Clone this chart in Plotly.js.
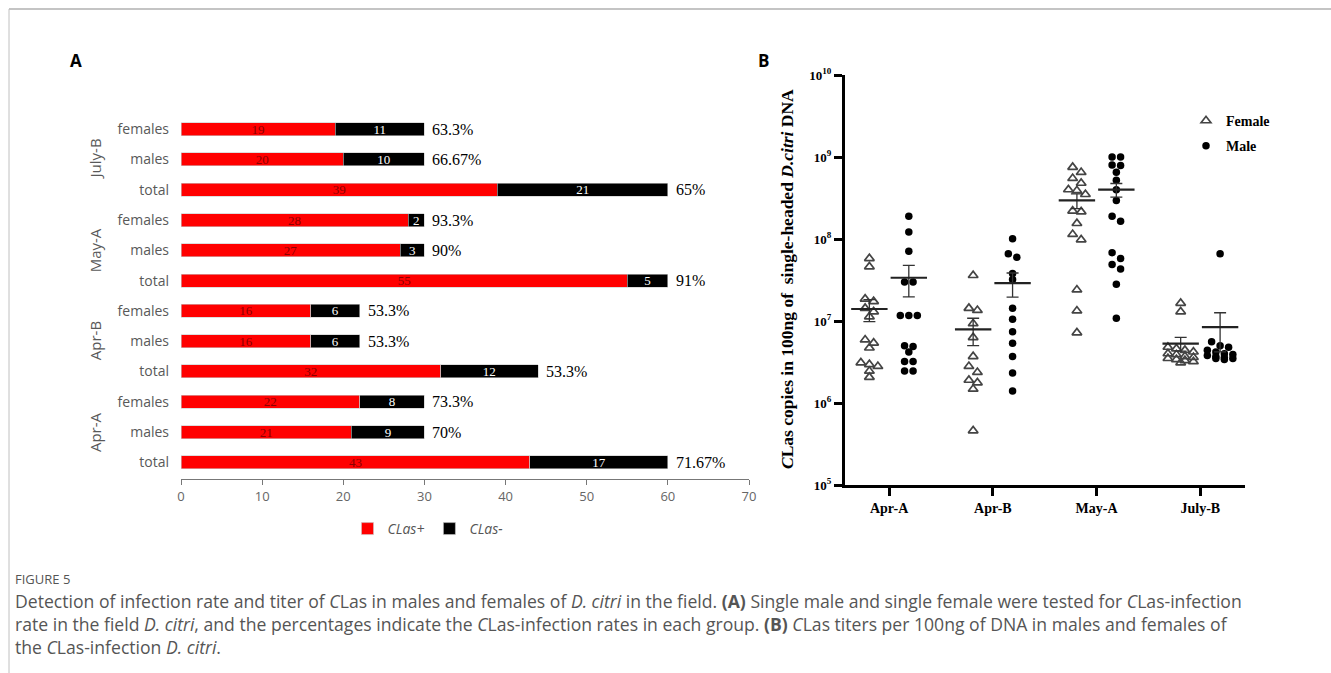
<!DOCTYPE html>
<html>
<head>
<meta charset="utf-8">
<script src="https://cdn.plot.ly/plotly-3.0.1.min.js"></script>
<style>html,body{margin:0;padding:0;background:#fff;}#chart{width:1331px;height:673px;}</style>
</head>
<body>
<div id="chart"></div>
<script>
// ---------- Panel A data (rows listed top to bottom) ----------
const groupsA = ['July-B', 'May-A', 'Apr-B', 'Apr-A'];
const rolesA = ['females', 'males', 'total'];
const posA = [19, 20, 39, 28, 27, 55, 16, 16, 32, 22, 21, 43];   // CLas+
const negA = [11, 10, 21, 2, 3, 5, 6, 6, 12, 8, 9, 17];          // CLas-
const pctA = ['63.3%', '66.67%', '65%', '93.3%', '90%', '91%', '53.3%', '53.3%', '53.3%', '73.3%', '70%', '71.67%'];
const xTicksA = [0, 10, 20, 30, 40, 50, 60, 70];

// ---------- Panel B data ----------
const groupsB = ['Apr-A', 'Apr-B', 'May-A', 'July-B'];
const femaleB = [
  [5.8e7, 4.6e7, 1.86e7, 1.73e7, 1.43e7, 1.3e7, 1.13e7, 5.9e6, 5.4e6, 4.7e6, 3.1e6, 2.95e6, 2.8e6, 2.45e6, 2.06e6],
  [3.6e7, 1.43e7, 1.35e7, 9.3e6, 6.3e6, 3.7e6, 2.8e6, 2.37e6, 1.9e6, 1.77e6, 1.48e6, 4.6e5],
  [7.5e8, 6.5e8, 5.5e8, 4.8e8, 4.0e8, 3.9e8, 3.5e8, 2.2e8, 2.15e8, 1.55e8, 1.14e8, 9.8e7, 2.4e7, 1.33e7, 7.2e6],
  [1.65e7, 1.3e7, 4.8e6, 4.6e6, 4.4e6, 4.2e6, 4.0e6, 3.9e6, 3.7e6, 3.6e6, 3.5e6, 3.4e6, 3.3e6, 3.2e6, 3.1e6]
];
const maleB = [
  [1.9e8, 1.22e8, 7.1e7, 3.0e7, 3.0e7, 1.17e7, 1.17e7, 1.17e7, 5.0e6, 4.9e6, 4.2e6, 3.2e6, 3.2e6, 2.45e6, 2.45e6],
  [1.01e8, 6.6e7, 6.0e7, 3.8e7, 3.2e7, 1.43e7, 1.05e7, 7.4e6, 5.35e6, 3.7e6, 2.33e6, 1.4e6],
  [1.0e9, 1.0e9, 8.0e8, 7.9e8, 6.5e8, 5.2e8, 4.0e8, 2.95e8, 1.9e8, 1.65e8, 6.8e7, 5.8e7, 4.9e7, 4.3e7, 2.8e7, 1.08e7],
  [6.6e7, 5.6e6, 5.0e6, 4.8e6, 4.4e6, 4.2e6, 4.0e6, 3.9e6, 3.8e6, 3.7e6, 3.6e6, 3.5e6, 3.5e6, 3.4e6]
];
const meanF = [1.4e7, 7.9e6, 2.95e8, 5.3e6];
const semF  = [4.2e6, 2.9e6, 6.0e7, 1.0e6];
const meanM = [3.37e7, 2.9e7, 4.0e8, 8.4e6];
const semM  = [1.4e7, 9.5e6, 7.5e7, 4.2e6];
const yTicksB = [1e5, 1e6, 1e7, 1e8, 1e9, 1e10];
const yTickTextB = ['10<sup>5</sup>', '10<sup>6</sup>', '10<sup>7</sup>', '10<sup>8</sup>', '10<sup>9</sup>', '10<sup>10</sup>'];

// ---------- geometry helpers ----------
const W = 1331, H = 673;
const px = v => v / W;
const py = v => 1 - v / H;

const nRows = posA.length;
const yPosA = posA.map((_, i) => nRows - 1 - i);
const tickTextA = yPosA.map((_, i) => rolesA[i % 3]);
const totalsA = posA.map((v, i) => v + negA[i]);

// Panel B axis setup
const xRangeB = [0.575, 4.43];
const yRangeB = [5, 10];
const domXB = [845, 1245];
const domYB = [75, 485];
const pxPerUnitX = (domXB[1] - domXB[0]) / (xRangeB[1] - xRangeB[0]);
const pxPerDecade = (domYB[1] - domYB[0]) / (yRangeB[1] - yRangeB[0]);
const sideOffset = 0.19;

// simple row-based swarm layout (GraphPad-like scatter dot plot)
function swarm(vals, centre) {
  const d = 8.5;      // horizontal step in px
  const thr = 6;      // vertical px threshold for a row
  const maxRow = 4;
  const idx = vals.map((v, i) => i).sort((a, b) => vals[b] - vals[a]);
  const out = new Array(vals.length);
  let row = [];
  const flush = () => {
    row.forEach((k, j) => {
      out[k] = centre + ((j - (row.length - 1) / 2) * d) / pxPerUnitX;
    });
    row = [];
  };
  idx.forEach(k => {
    if (row.length) {
      const dy = (Math.log10(vals[row[0]]) - Math.log10(vals[k])) * pxPerDecade;
      if (dy > thr || row.length >= maxRow) flush();
    }
    row.push(k);
  });
  flush();
  return out;
}

const fx = [], fy = [], mx = [], my = [];
groupsB.forEach((g, gi) => {
  const xsF = swarm(femaleB[gi], gi + 1 - sideOffset);
  const xsM = swarm(maleB[gi], gi + 1 + sideOffset);
  femaleB[gi].forEach((v, k) => { fx.push(xsF[k]); fy.push(v); });
  maleB[gi].forEach((v, k) => { mx.push(xsM[k]); my.push(v); });
});

const serif = 'Liberation Serif, Times New Roman, serif';
const sans = 'Open Sans, Noto Sans, sans-serif';

const traces = [
  {
    type: 'bar', orientation: 'h', name: '<i>CLas+</i>',
    x: posA, y: yPosA, width: 0.43,
    marker: {color: '#ff0000', line: {color: '#c8c8c8', width: 0.6}},
    text: posA.map(String), textposition: 'inside', insidetextanchor: 'middle',
    constraintext: 'none', textangle: 0,
    textfont: {family: serif, size: 13, color: '#8a0000'},
    hoverinfo: 'x+y', xaxis: 'x', yaxis: 'y', legend: 'legend'
  },
  {
    type: 'bar', orientation: 'h', name: '<i>CLas-</i>',
    x: negA, y: yPosA, width: 0.43,
    marker: {color: '#000000', line: {color: '#c8c8c8', width: 0.6}},
    text: negA.map(String), textposition: 'inside', insidetextanchor: 'middle',
    constraintext: 'none', textangle: 0,
    textfont: {family: serif, size: 13, color: '#ffffff'},
    hoverinfo: 'x+y', xaxis: 'x', yaxis: 'y', legend: 'legend'
  },
  {
    type: 'scatter', mode: 'markers', name: '<b>Female</b>',
    x: fx, y: fy, legendgroup: 'f',
    marker: {symbol: 'triangle-up-open', size: 8.5, color: '#444', line: {width: 1.7, color: '#444'}},
    xaxis: 'x2', yaxis: 'y2', legend: 'legend2', cliponaxis: false
  },
  {
    type: 'scatter', mode: 'markers', name: '<b>Male</b>',
    x: mx, y: my, legendgroup: 'm',
    marker: {symbol: 'circle', size: 7.5, color: '#000'},
    xaxis: 'x2', yaxis: 'y2', legend: 'legend2', cliponaxis: false
  },
  {
    type: 'scatter', mode: 'markers',
    x: groupsB.map((g, i) => i + 1 - sideOffset), y: meanF,
    marker: {symbol: 'line-ew', size: 26, line: {width: 2.2, color: '#222'}},
    error_y: {type: 'data', array: semF, visible: true, width: 6, thickness: 1.3, color: '#333'},
    showlegend: false, xaxis: 'x2', yaxis: 'y2', hoverinfo: 'y'
  },
  {
    type: 'scatter', mode: 'markers',
    x: groupsB.map((g, i) => i + 1 + sideOffset), y: meanM,
    marker: {symbol: 'line-ew', size: 26, line: {width: 2.2, color: '#222'}},
    error_y: {type: 'data', array: semM, visible: true, width: 6, thickness: 1.3, color: '#333'},
    showlegend: false, xaxis: 'x2', yaxis: 'y2', hoverinfo: 'y'
  }
];

const captionFont = {family: sans, size: 17.6, color: '#555'};
const annotations = [
  {text: '<b>A</b>', x: px(76), y: py(60), xref: 'paper', yref: 'paper', xanchor: 'center', yanchor: 'middle',
   showarrow: false, font: {family: sans, size: 17, color: '#000'}},
  {text: '<b>B</b>', x: px(763), y: py(60), xref: 'paper', yref: 'paper', xanchor: 'center', yanchor: 'middle',
   showarrow: false, font: {family: sans, size: 17, color: '#000'}},
  {text: '<b><i>C</i>Las copies in 100ng of  single-headed <i>D.citri</i> DNA</b>',
   x: px(787), y: py(279), xref: 'paper', yref: 'paper', xanchor: 'center', yanchor: 'middle',
   showarrow: false, textangle: -90,
   font: {family: serif, size: 17.5, color: '#000'}},
  {text: 'FIGURE 5', x: px(13), y: py(579), xref: 'paper', yref: 'paper', xanchor: 'left', yanchor: 'middle',
   showarrow: false, font: {family: sans, size: 13, color: '#555'}},
  {text: 'Detection of infection rate and titer of <i>C</i>Las in males and females of <i>D. citri</i> in the field. <b>(A)</b> Single male and single female were tested for <i>C</i>Las-infection',
   x: px(13), y: py(600.5), xref: 'paper', yref: 'paper', xanchor: 'left', yanchor: 'middle',
   showarrow: false, font: captionFont},
  {text: 'rate in the field <i>D. citri</i>, and the percentages indicate the <i>C</i>Las-infection rates in each group. <b>(B)</b> <i>C</i>Las titers per 100ng of DNA in males and females of',
   x: px(13), y: py(623.5), xref: 'paper', yref: 'paper', xanchor: 'left', yanchor: 'middle',
   showarrow: false, font: captionFont},
  {text: 'the <i>C</i>Las-infection <i>D. citri</i>.',
   x: px(13), y: py(646.5), xref: 'paper', yref: 'paper', xanchor: 'left', yanchor: 'middle',
   showarrow: false, font: captionFont}
];
// group labels (rotated) centred on the "males" row of each group
groupsA.forEach((g, gi) => {
  annotations.push({
    text: g, x: px(95), y: yPosA[gi * 3 + 1], xref: 'paper', yref: 'y',
    xanchor: 'center', yanchor: 'middle',
    textangle: -90, showarrow: false, font: {family: sans, size: 15, color: '#595959'}
  });
});
// percentage labels to the right of each bar
pctA.forEach((t, i) => {
  annotations.push({
    text: t, x: totalsA[i], y: yPosA[i], xref: 'x', yref: 'y', xanchor: 'left', yanchor: 'middle',
    xshift: 6, showarrow: false, font: {family: serif, size: 16, color: '#000'}
  });
});

const layout = {
  width: W, height: H,
  margin: {l: 0, r: 0, t: 0, b: 0},
  paper_bgcolor: '#fff', plot_bgcolor: 'rgba(0,0,0,0)',
  barmode: 'stack',
  showlegend: true,
  xaxis: {
    domain: [px(181), px(749)], range: [0, 70], tickvals: xTicksA,
    ticks: 'outside', ticklen: 5, tickcolor: '#777', showline: true, linecolor: '#777', linewidth: 1,
    showgrid: false, zeroline: false, anchor: 'y',
    tickfont: {family: sans, size: 13, color: '#666'}
  },
  yaxis: {
    domain: [py(479), py(111)], range: [-0.55, 11.6],
    tickvals: yPosA, ticktext: tickTextA, ticks: '', showline: false, showgrid: false, zeroline: false,
    anchor: 'x', ticklabelstandoff: 11,
    tickfont: {family: sans, size: 14, color: '#595959'}
  },
  xaxis2: {
    domain: [px(domXB[0]), px(domXB[1])], range: xRangeB,
    tickvals: [1, 2, 3, 4], ticktext: groupsB.map(g => '<b>' + g + '</b>'),
    ticks: 'outside', ticklen: 8, tickwidth: 2.5, tickcolor: '#000',
    showline: true, linecolor: '#000', linewidth: 3, showgrid: false, zeroline: false, anchor: 'y2',
    tickfont: {family: serif, size: 14, color: '#000'}
  },
  yaxis2: {
    domain: [py(domYB[1]), py(domYB[0])], type: 'log', range: yRangeB,
    tickvals: yTicksB, ticktext: yTickTextB.map(t => '<b>' + t + '</b>'),
    ticks: 'outside', ticklen: 8, tickwidth: 2.5, tickcolor: '#000',
    showline: true, linecolor: '#000', linewidth: 3, showgrid: false, zeroline: false, anchor: 'x2',
    tickfont: {family: serif, size: 13, color: '#000'}
  },
  legend: {
    orientation: 'h', traceorder: 'normal', x: px(428), xanchor: 'center', y: py(529), yanchor: 'middle',
    bgcolor: 'rgba(0,0,0,0)', font: {family: sans, size: 14, color: '#555'}
  },
  legend2: {
    x: px(1186), xanchor: 'left', y: py(105), yanchor: 'top', tracegroupgap: 4,
    bgcolor: 'rgba(0,0,0,0)', font: {family: serif, size: 14, color: '#000'}
  },
  annotations: annotations,
  shapes: [
    {type: 'line', xref: 'paper', yref: 'paper', x0: px(9), x1: 1, y0: py(9), y1: py(9),
     line: {color: '#b0b0b0', width: 1.5}},
    {type: 'line', xref: 'paper', yref: 'paper', x0: px(9), x1: px(9), y0: py(9), y1: 0,
     line: {color: '#c0c0c0', width: 1}}
  ]
};

Plotly.newPlot('chart', traces, layout, {displayModeBar: false, responsive: false});
</script>
</body>
</html>
